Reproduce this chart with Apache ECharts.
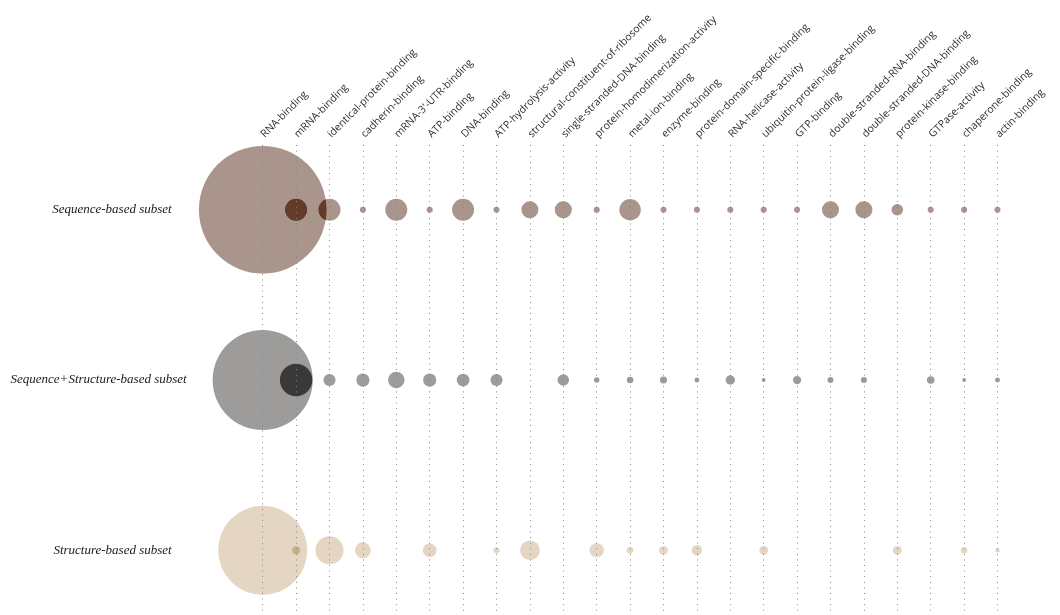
<!DOCTYPE html>
<html>
<head>
<meta charset="utf-8">
<script src="https://cdn.jsdelivr.net/npm/echarts@6/dist/echarts.min.js"></script>
<style>
  html, body { margin: 0; padding: 0; background: #ffffff; }
  #chart { width: 1060px; height: 615px; }
</style>
</head>
<body>
<div id="chart"></div>
<script>
// GO molecular-function terms (columns)
const categories = [
  'RNA-binding', 'mRNA-binding', 'identical-protein-binding', 'cadherin-binding',
  "mRNA-3'-UTR-binding", 'ATP-binding', 'DNA-binding', 'ATP-hydrolysis-activity',
  'structural-constituent-of-ribosome', 'single-stranded-DNA-binding',
  'protein-homodimerization-activity', 'metal-ion-binding', 'enzyme-binding',
  'protein-domain-specific-binding', 'RNA-helicase-activity',
  'ubiquitin-protein-ligase-binding', 'GTP-binding', 'double-stranded-RNA-binding',
  'double-stranded-DNA-binding', 'protein-kinase-binding', 'GTPase-activity',
  'chaperone-binding', 'actin-binding'
];

// Subsets (rows)
const subsets = [
  'Sequence-based subset',
  'Sequence+Structure-based subset',
  'Structure-based subset'
];

// Term weights per subset (null = term absent in that subset)
const sequenceValues = [
  23.2, 4.0, 4.0, 1.1, 4.0, 1.1, 4.0, 1.1, 3.1, 3.1, 1.1, 3.9,
  1.1, 1.1, 1.1, 1.1, 1.1, 3.1, 3.1, 2.1, 1.1, 1.1, 1.1
];
const seqStructValues = [
  18.2, 5.9, 2.2, 2.4, 3.0, 2.4, 2.3, 2.2, null, 2.1, 1.0, 1.2,
  1.3, 0.9, 1.7, 0.7, 1.5, 1.1, 1.1, null, 1.4, 0.7, 0.9
];
const structureValues = [
  16.2, 1.5, 5.1, 2.9, null, 2.5, null, 1.1, 3.6, null, 2.6, 1.2,
  1.6, 1.9, null, 1.6, null, null, null, 1.6, null, 1.2, 0.8
];

const SIZE_PER_UNIT = 5.5;

function rowData(values, row) {
  const out = [];
  values.forEach((v, i) => {
    if (v != null) out.push([i, row + 1, v]);
  });
  return out;
}

// Bubbles of one subset; additive blending darkens where bubbles overlap
function bubbleSeries(values, row, color, opacity) {
  return {
    type: 'scatter',
    zlevel: 0,
    clip: false,
    blendMode: 'lighter',
    silent: true,
    data: rowData(values, row),
    symbolSize: d => d[2] * SIZE_PER_UNIT,
    itemStyle: { color: color, opacity: opacity }
  };
}

const chart = echarts.init(document.getElementById('chart'), null, { renderer: 'canvas' });

chart.setOption({
  animation: false,
  backgroundColor: 'transparent',
  grid: { left: 262.7, right: 62.5, top: 145, bottom: 0, containLabel: false },
  xAxis: {
    type: 'category',
    data: categories,
    position: 'top',
    boundaryGap: false,
    zlevel: 1,
    axisLine: { show: false },
    axisTick: { show: false },
    axisLabel: {
      interval: 0,
      rotate: -45,
      margin: 9,
      fontFamily: 'Open Sans',
      fontSize: 10.5,
      color: '#2e2e2e'
    },
    splitLine: {
      show: true,
      interval: 0,
      lineStyle: { color: '#858585', width: 1, type: [1, 4.6] }
    }
  },
  yAxis: {
    type: 'value',
    inverse: true,
    min: 0.62,
    max: 3.38,
    zlevel: 1,
    axisLine: { show: false },
    axisTick: { show: false },
    splitLine: { show: false },
    axisLabel: {
      customValues: [1, 2, 3],
      margin: 76,
      fontFamily: 'Liberation Serif',
      fontStyle: 'italic',
      fontSize: 13,
      color: '#1a1a1a',
      formatter: v => {
        const name = subsets[Math.round(v) - 1] || '';
        return name === 'Sequence+Structure-based subset' ? '{w|' + name + '}' : '{n|' + name + '}';
      },
      rich: {
        w: { fontFamily: 'Liberation Serif', fontStyle: 'italic', fontSize: 13, color: '#1a1a1a' },
        n: { fontFamily: 'Liberation Serif', fontStyle: 'italic', fontSize: 13, color: '#1a1a1a', padding: [0, 15, 0, 0] }
      }
    }
  },
  series: [
    bubbleSeries(sequenceValues, 0, '#5e3626', 0.53),
    bubbleSeries(seqStructValues, 1, '#33302e', 0.48),
    bubbleSeries(structureValues, 2, '#c9a882', 0.47)
  ]
});
</script>
</body>
</html>
